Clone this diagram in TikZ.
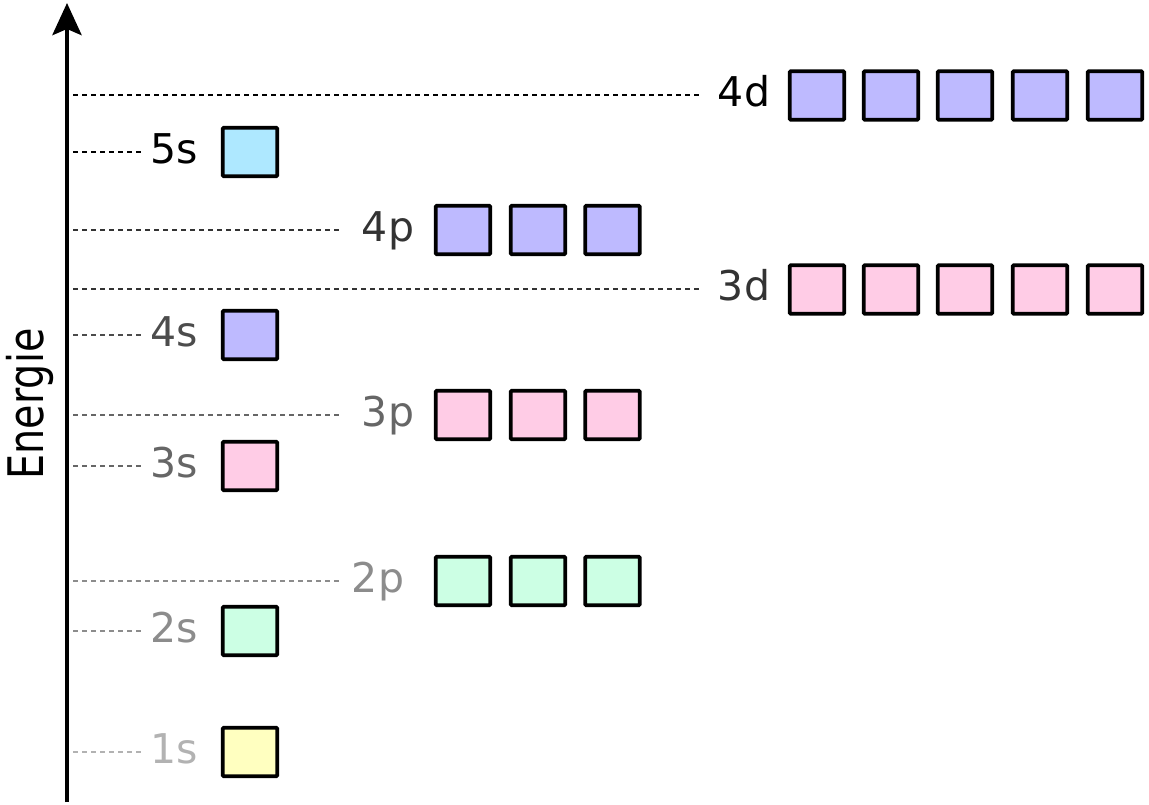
\documentclass[tikz,border=0pt]{standalone}
\usepackage{fontspec}
\setmainfont{DejaVu Sans}
\usetikzlibrary{arrows.meta}

% orbital fill colours
\definecolor{orbA}{RGB}{255,255,192}  % 1s
\definecolor{orbB}{RGB}{204,255,228}  % n = 2
\definecolor{orbC}{RGB}{255,204,230}  % n = 3 (and 3d)
\definecolor{orbD}{RGB}{190,186,255}  % n = 4 (and 4d)
\definecolor{orbE}{RGB}{174,232,255}  % 5s

\tikzset{
  orbital/.style={draw=black, line width=3.8pt, rounded corners=1pt,
    minimum width=54.5pt, minimum height=48.5pt, inner sep=0pt},
  level/.style={inner sep=0pt, anchor=base, font=\fontsize{41}{49}\selectfont},
  guide/.style={line width=2.1pt, dash pattern=on 5pt off 4pt},
}

\begin{document}
\begin{tikzpicture}[x=1pt,y=-1pt]
\useasboundingbox (0,0) rectangle (1149,805);

% energy axis
\draw[line width=4.8pt, -{Stealth[length=32pt,width=29pt,inset=6pt]}] (67,802) -- (67,3);
\node[rotate=90, anchor=base, inner sep=0pt] (axislabel) at (43,404)
  {\scalebox{0.81}[1]{\fontsize{49}{56}\selectfont Energie}};

% level labels (baseline 11.5 below the level line)
\node[level, text=black!30]  (l1s) at (174,763.5) {1s};
\node[level, text=black!45]  (l2s) at (174,642.5) {2s};
\node[level, text=black!45]  (l2p) at (378,592.5) {2p};
\node[level, text=black!60]  (l3s) at (174,477.5) {3s};
\node[level, text=black!60]  (l3p) at (388,426.5) {3p};
\node[level, text=black!70]  (l4s) at (174,346.5) {4s};
\node[level, text=black!80]  (l3d) at (744,300.5) {3d};
\node[level, text=black!80]  (l4p) at (388,241.5) {4p};
\node[level, text=black]     (l5s) at (174,163.5) {5s};
\node[level, text=black]     (l4d) at (744,106.5) {4d};

% start points of the guide lines, next to the axis
\coordinate (a1s) at (73,752);
\coordinate (a2s) at (73,631);
\coordinate (a2p) at (73,581);
\coordinate (a3s) at (73,466);
\coordinate (a3p) at (73,415);
\coordinate (a4s) at (73,335);
\coordinate (a3d) at (73,289);
\coordinate (a4p) at (73,230);
\coordinate (a5s) at (73,152);
\coordinate (a4d) at (73,95);

% dashed guide lines from the axis to each label
\draw[guide, black!30, shorten >=8.5pt]  (a1s) -- (a1s -| l1s.west);
\draw[guide, black!45, shorten >=8.5pt]  (a2s) -- (a2s -| l2s.west);
\draw[guide, black!45, shorten >=10pt]   (a2p) -- (a2p -| l2p.west);
\draw[guide, black!60, shorten >=8.5pt]  (a3s) -- (a3s -| l3s.west);
\draw[guide, black!60, shorten >=20pt]   (a3p) -- (a3p -| l3p.west);
\draw[guide, black!70, shorten >=8.5pt]  (a4s) -- (a4s -| l4s.west);
\draw[guide, black!80, shorten >=18pt]   (a3d) -- (a3d -| l3d.west);
\draw[guide, black!80, shorten >=20pt]   (a4p) -- (a4p -| l4p.west);
\draw[guide, black,    shorten >=8.5pt]  (a5s) -- (a5s -| l5s.west);
\draw[guide, black,    shorten >=18pt]   (a4d) -- (a4d -| l4d.west);

% s orbitals
\node[orbital, fill=orbA] (o1s) at (250,752) {};
\node[orbital, fill=orbB] (o2s) at (250,631) {};
\node[orbital, fill=orbC] (o3s) at (250,466) {};
\node[orbital, fill=orbD] (o4s) at (250,335) {};
\node[orbital, fill=orbE] (o5s) at (250,152) {};

% p orbitals
\foreach \i/\x in {1/463,2/538,3/612.5} {
  \node[orbital, fill=orbB] (o2p\i) at (\x,581) {};
  \node[orbital, fill=orbC] (o3p\i) at (\x,415) {};
  \node[orbital, fill=orbD] (o4p\i) at (\x,230) {};
}

% d orbitals
\foreach \i/\x in {1/817,2/891,3/965,4/1040,5/1115} {
  \node[orbital, fill=orbC] (o3d\i) at (\x,289.5) {};
  \node[orbital, fill=orbD] (o4d\i) at (\x,95.5) {};
}
\end{tikzpicture}
\end{document}
